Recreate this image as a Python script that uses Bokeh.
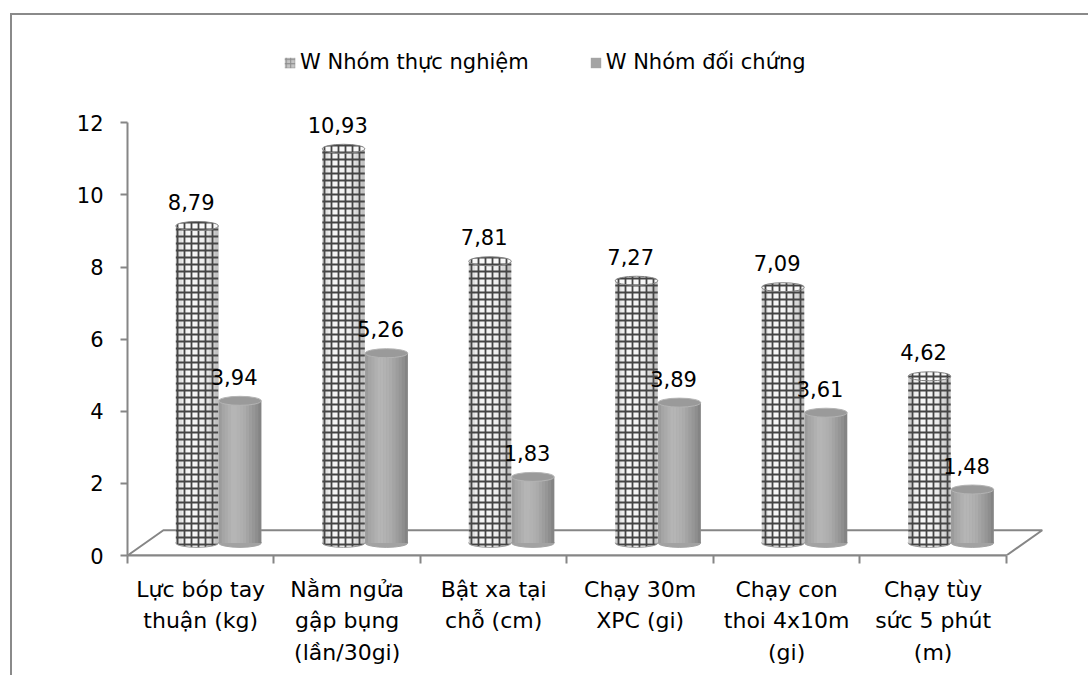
import numpy as np
from bokeh.plotting import figure
from bokeh.models import Range1d, FixedTicker, ColumnDataSource, Legend, LegendItem
from bokeh.core.properties import value
from bokeh.embed import file_html
from bokeh.resources import INLINE

# ---------------- data ----------------
categories = [
    "Lực bóp tay\nthuận (kg)",
    "Nằm ngửa\ngập bụng\n(lần/30gi)",
    "Bật xa tại\nchỗ (cm)",
    "Chạy 30m\nXPC (gi)",
    "Chạy con\nthoi 4x10m\n(gi)",
    "Chạy tùy\nsức 5 phút\n(m)",
]
exp_values = [8.79, 10.93, 7.81, 7.27, 7.09, 4.62]
ctrl_values = [3.94, 5.26, 1.83, 3.89, 3.61, 1.48]
y_ticks = [0, 2, 4, 6, 8, 10, 12]
series_names = ["W Nhóm thực nghiệm", "W Nhóm đối chứng"]

# ---------------- style / geometry constants ----------------
FONT = "DejaVu Sans"
DX, DY = 0.245, 0.70          # 3-D depth offset of the floor (data units)
BASE = DY / 2                 # bars stand in the middle of the floor depth
W = 0.29                      # cylinder width (category units)
EXP_OFF, CTRL_OFF = 0.475, 0.768
CAP_H = 0.25                  # ellipse height of cylinder caps (value units)
NSLICE = 14
AXIS_COL = "#868686"

n = len(categories)
xc = np.arange(n)

p = figure(width=1078, height=662,
           x_range=Range1d(0, 6.315), y_range=Range1d(0, 14.2),
           output_backend="svg", toolbar_location=None,
           min_border_left=115, min_border_right=38,
           min_border_top=28, min_border_bottom=122)
p.margin = (13, 0, 0, 10)
p.styles = {"border-left": "2px solid #8a8a8a", "border-top": "2px solid #8a8a8a"}
p.grid.visible = False
p.outline_line_color = None
p.background_fill_color = "white"

# ---------------- floor ----------------
p.patch([0, n, n + DX, DX], [0, 0, DY, DY], fill_color=None,
        line_color=AXIS_COL, line_width=2)

# ---------------- experimental cylinders ----------------
ex = xc + EXP_OFF
exp_top = np.array(exp_values) + BASE
hatch = dict(hatch_pattern="+", hatch_color="#444444", hatch_scale=7, hatch_weight=1.8)
p.ellipse(x=ex, y=[BASE] * n, width=W, height=CAP_H, fill_color="#f8f8f8",
          line_color="#9a9a9a", line_width=1, **hatch)
p.vbar(x=ex, width=W, bottom=BASE, top=exp_top, fill_color="#f8f8f8",
       line_color=None, **hatch)
# shading stripes
t = (np.arange(NSLICE) + 0.5) / NSLICE
alpha_prof = np.interp(t, [0, 0.15, 0.35, 0.7, 1.0], [0.32, 0.07, 0.0, 0.07, 0.36])
sx, stop, sa = [], [], []
for i in range(n):
    for k in range(NSLICE):
        sx.append(ex[i] - W / 2 + t[k] * W)
        stop.append(exp_top[i])
        sa.append(alpha_prof[k])
p.vbar(x=sx, width=W / NSLICE * 1.02, bottom=BASE, top=stop, fill_color="#505050",
       fill_alpha=sa, line_color=None)
p.ellipse(x=ex, y=exp_top, width=W, height=CAP_H, fill_color="#f8f8f8",
          line_color="#808080", line_width=1, **hatch)
# zero-width twin of the series, only used for its legend swatch
r_exp_leg = p.vbar(x=ex, width=0, bottom=BASE, top=exp_top, fill_color="#c4c4c4",
                   line_color=None, hatch_pattern="+", hatch_color="#8c8c8c",
                   hatch_scale=4.5, hatch_weight=1)

# ---------------- control cylinders ----------------
cx = xc + CTRL_OFF
ctrl_top = np.array(ctrl_values) + BASE
p.ellipse(x=cx, y=[BASE] * n, width=W, height=CAP_H, fill_color="#a2a2a2",
          line_color="#a2a2a2")
r_ctrl = p.vbar(x=cx, width=W, bottom=BASE, top=ctrl_top, fill_color="#a4a4a4",
                line_color=None)
bright = np.interp(t, [0, 0.1, 0.35, 0.6, 0.85, 1.0], [150, 165, 184, 172, 148, 128])
cols = ["#%02x%02x%02x" % (int(b), int(b), int(b)) for b in bright]
sx, stop, sc = [], [], []
for i in range(n):
    for k in range(NSLICE):
        sx.append(cx[i] - W / 2 + t[k] * W)
        stop.append(ctrl_top[i])
        sc.append(cols[k])
p.vbar(x=sx, width=W / NSLICE * 1.05, bottom=BASE, top=stop, fill_color=sc,
       line_color=None)
p.ellipse(x=cx, y=ctrl_top, width=W, height=CAP_H, fill_color="#9a9a9a",
          line_color="#b4b4b4", line_width=1)

# ---------------- value labels ----------------
lab_src = ColumnDataSource(dict(
    x=list(ex - 0.04) + list(cx - 0.04),
    y=list(exp_top) + list(ctrl_top),
    t=[f"{v:.2f}".replace(".", ",") for v in exp_values + ctrl_values],
))
p.text(x="x", y="y", text="t", source=lab_src, y_offset=-24,
       text_align="center", text_baseline="alphabetic",
       text_font=value(FONT), text_font_size="21px", text_color="black")

# ---------------- axes ----------------
ya = p.yaxis[0]
ya.ticker = FixedTicker(ticks=y_ticks, minor_ticks=[])
ya.bounds = (0, 12)
ya.axis_line_color = AXIS_COL
ya.axis_line_width = 2
ya.major_tick_line_color = AXIS_COL
ya.major_tick_line_width = 2
ya.major_tick_out = 7
ya.major_tick_in = 0
ya.minor_tick_line_color = None
ya.major_label_standoff = 17
ya.major_label_text_font = FONT
ya.major_label_text_font_size = "21px"
ya.major_label_text_color = "black"

xa = p.xaxis[0]
centers = [i + 0.5 for i in range(n)]
xa.ticker = FixedTicker(ticks=centers, minor_ticks=list(range(n + 1)))
xa.bounds = (0, n)
xa.major_label_overrides = {c: lab for c, lab in zip(centers, categories)}
xa.axis_line_color = AXIS_COL
xa.axis_line_width = 2
xa.major_tick_line_color = None
xa.major_tick_out = 0
xa.major_tick_in = 0
xa.minor_tick_line_color = AXIS_COL
xa.minor_tick_line_width = 2
xa.minor_tick_out = 8
xa.minor_tick_in = 0
xa.major_label_standoff = 13
xa.major_label_text_font = FONT
xa.major_label_text_font_size = "22px"
xa.major_label_text_color = "black"
xa.major_label_text_line_height = 1.26

# ---------------- legend ----------------
legend = Legend(items=[LegendItem(label=series_names[0], renderers=[r_exp_leg]),
                       LegendItem(label=series_names[1], renderers=[r_ctrl])],
                orientation="horizontal", location=(156, 481),
                glyph_width=13, glyph_height=13, label_standoff=4, spacing=60,
                padding=0, margin=0, border_line_color=None,
                background_fill_alpha=0,
                label_text_font=FONT, label_text_font_size="21px",
                label_text_color="black")
p.add_layout(legend)

open("out.html", "w").write(file_html(p, INLINE))
